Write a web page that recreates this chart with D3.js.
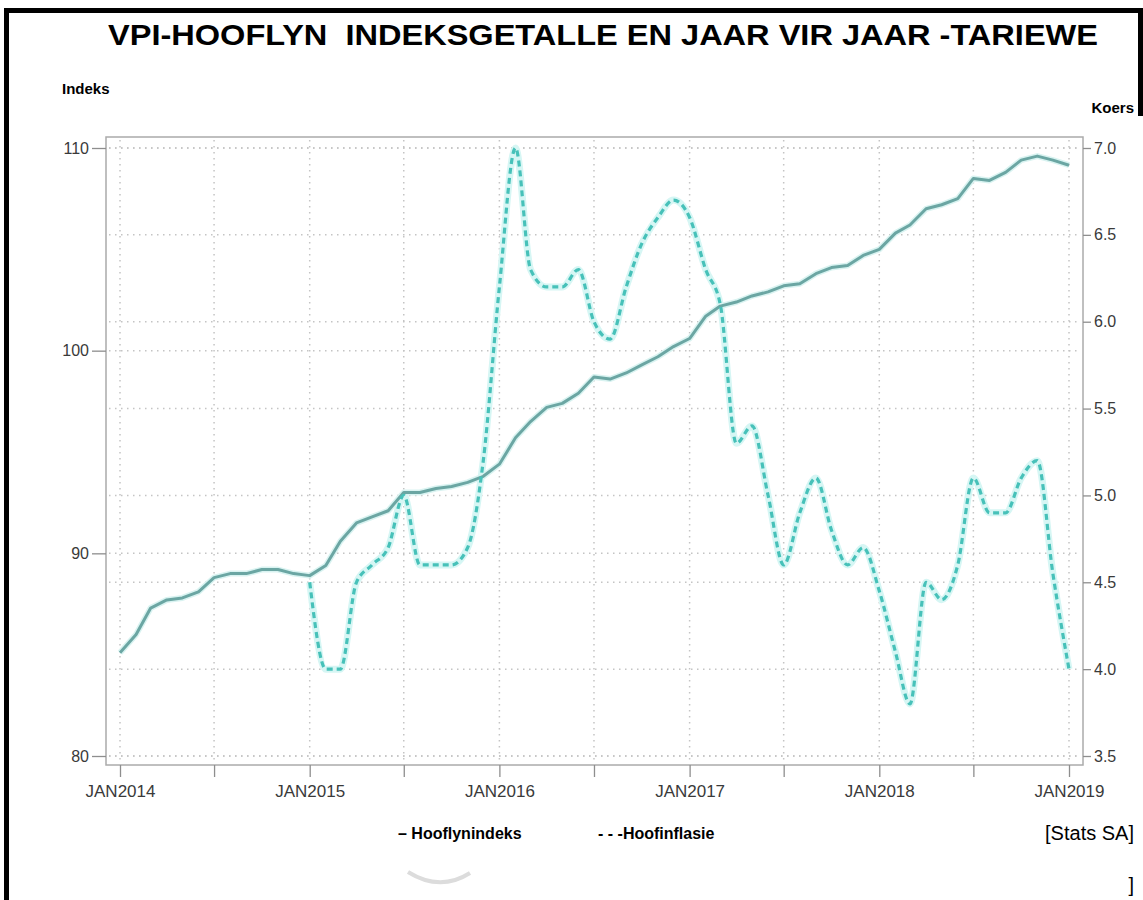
<!DOCTYPE html>
<html>
<head>
<meta charset="utf-8">
<script src="https://d3js.org/d3.v7.min.js"></script>
<style>
  body { margin: 0; background: #fff; }
  svg text { font-family: "Liberation Sans", Arial, sans-serif; }
</style>
</head>
<body>
<script>
(function(){

    //chart values
    var startMonth = new Date(2014, 0, 1);     //first month of the index series
    var inflationStart = new Date(2015, 0, 1); //first month of the inflation series

    //Hooflynindeks, monthly JAN2014 - JAN2019 (left axis)
    var indexValues = [
        85.1, 86.0, 87.3, 87.7, 87.8, 88.1, 88.8, 89.0, 89.0, 89.2, 89.2, 89.0,
        88.9, 89.4, 90.6, 91.5, 91.8, 92.1, 93.0, 93.0, 93.2, 93.3, 93.5, 93.8,
        94.4, 95.7, 96.5, 97.2, 97.4, 97.9, 98.7, 98.6, 98.9, 99.3, 99.7, 100.2,
        100.6, 101.7, 102.2, 102.4, 102.7, 102.9, 103.2, 103.3, 103.8, 104.1, 104.2, 104.7,
        105.0, 105.8, 106.2, 107.0, 107.2, 107.5, 108.5, 108.4, 108.8, 109.4, 109.6, 109.4,
        109.15
    ];

    //Hoofinflasie, monthly JAN2015 - JAN2019 (right axis)
    var inflationValues = [
        4.5, 4.0, 4.0, 4.5, 4.6, 4.7, 5.0, 4.6, 4.6, 4.6, 4.7, 5.2,
        6.2, 7.0, 6.3, 6.2, 6.2, 6.3, 6.0, 5.9, 6.2, 6.45, 6.6, 6.7,
        6.6, 6.3, 6.1, 5.3, 5.4, 5.0, 4.6, 4.9, 5.1, 4.8, 4.6, 4.7,
        4.45, 4.1, 3.8, 4.5, 4.4, 4.6, 5.1, 4.9, 4.9, 5.1, 5.2, 4.55,
        4.0
    ];

    var leftTicks = [80, 90, 100, 110];
    var rightTicks = [3.5, 4.0, 4.5, 5.0, 5.5, 6.0, 6.5, 7.0];
    var yearLabels = ["JAN2014", "JAN2015", "JAN2016", "JAN2017", "JAN2018", "JAN2019"];

    var titleText = "VPI-HOOFLYN  INDEKSGETALLE EN JAAR VIR JAAR -TARIEWE";
    var legendLabels = ["\u2013 Hooflynindeks", "- - -Hoofinflasie"];

    //build dated rows
    var indexData = indexValues.map(function(v, i){
        return { date: d3.timeMonth.offset(startMonth, i), value: v };
    });
    var inflationData = inflationValues.map(function(v, i){
        return { date: d3.timeMonth.offset(inflationStart, i), value: v };
    });

    var width = 1143, height = 900;

    var svg = d3.select("body")
        .append("svg")
        .attr("width", width)
        .attr("height", height);

    //plot box
    var box = { left: 106, right: 1083, top: 137, bottom: 765 };

    var x = d3.scaleTime()
        .domain([startMonth, new Date(2019, 0, 1)])
        .range([120, 1069]);

    var yLeft = d3.scaleLinear()
        .domain([80, 110])
        .range([756, 148]);

    var yRight = d3.scaleLinear()
        .domain([3.5, 7.0])
        .range([756, 148]);

    var halfYears = d3.timeMonth.every(6).range(startMonth, new Date(2019, 1, 1));

    //outer frame
    svg.append("rect").attr("x", 4).attr("y", 8).attr("width", 1139).attr("height", 5).attr("fill", "#000");
    svg.append("rect").attr("x", 4).attr("y", 8).attr("width", 5).attr("height", 892).attr("fill", "#000");
    svg.append("rect").attr("x", 1138).attr("y", 8).attr("width", 5).attr("height", 108).attr("fill", "#000");

    //title (narrow, tall lettering)
    svg.append("text")
        .attr("x", 603)
        .attr("y", 45)
        .attr("text-anchor", "middle")
        .style("font-size", "30px")
        .style("font-weight", "bold")
        .style("white-space", "pre")
        .attr("xml:space", "preserve")
        .attr("textLength", 990)
        .attr("lengthAdjust", "spacingAndGlyphs")
        .text(titleText);

    svg.append("text")
        .attr("x", 62).attr("y", 94)
        .style("font-size", "15px").style("font-weight", "bold")
        .text("Indeks");

    svg.append("text")
        .attr("x", 1134).attr("y", 113)
        .attr("text-anchor", "end")
        .style("font-size", "15px").style("font-weight", "bold")
        .text("Koers");

    //gridlines
    var grid = svg.append("g")
        .attr("stroke", "#c4c4c4")
        .attr("stroke-width", 1.5)
        .attr("stroke-dasharray", "1.5,4.5");

    grid.selectAll(".hL")
        .data(leftTicks)
        .enter()
        .append("line")
        .attr("x1", box.left + 3).attr("x2", box.right - 3)
        .attr("y1", function(d){ return yLeft(d); })
        .attr("y2", function(d){ return yLeft(d); });

    grid.selectAll(".hR")
        .data(rightTicks)
        .enter()
        .append("line")
        .attr("x1", box.left + 3).attr("x2", box.right - 3)
        .attr("y1", function(d){ return yRight(d); })
        .attr("y2", function(d){ return yRight(d); });

    grid.selectAll(".v")
        .data(halfYears)
        .enter()
        .append("line")
        .attr("x1", function(d){ return x(d); })
        .attr("x2", function(d){ return x(d); })
        .attr("y1", box.top + 3).attr("y2", box.bottom - 3);

    //plot frame
    svg.append("rect")
        .attr("x", box.left).attr("y", box.top)
        .attr("width", box.right - box.left)
        .attr("height", box.bottom - box.top)
        .attr("fill", "none")
        .attr("stroke", "#ababab")
        .attr("stroke-width", 1.5);

    //axes
    var leftAxis = svg.append("g")
        .attr("transform", "translate(" + box.left + ",0)")
        .call(d3.axisLeft(yLeft).tickValues(leftTicks).tickSize(14).tickPadding(3).tickFormat(d3.format("d")));

    var rightAxis = svg.append("g")
        .attr("transform", "translate(" + box.right + ",0)")
        .call(d3.axisRight(yRight).tickValues(rightTicks).tickSize(8).tickPadding(3).tickFormat(d3.format(".1f")));

    var bottomAxis = svg.append("g")
        .attr("transform", "translate(0," + box.bottom + ")")
        .call(d3.axisBottom(x).tickValues(halfYears).tickSize(12).tickPadding(8)
            .tickFormat(function(d){
                return d.getMonth() === 0 ? yearLabels[d.getFullYear() - 2014] : "";
            }));

    [leftAxis, rightAxis, bottomAxis].forEach(function(ax){
        ax.select(".domain").remove();
        ax.selectAll(".tick line").attr("stroke", "#8e8e8e").attr("stroke-width", 1.3);
        ax.selectAll(".tick text")
            .attr("fill", "#3a3a3a")
            .style("font-family", "'Liberation Sans', Arial, sans-serif")
            .style("font-size", "17px");
    });
    leftAxis.selectAll(".tick text").style("font-size", "16px");
    rightAxis.selectAll(".tick text").style("font-size", "16px");

    //lines
    var indexLine = d3.line()
        .x(function(d){ return x(d.date); })
        .y(function(d){ return yLeft(d.value); });

    var inflationLine = d3.line()
        .x(function(d){ return x(d.date); })
        .y(function(d){ return yRight(d.value); })
        .curve(d3.curveMonotoneX);

    //soft halo under the lines
    svg.append("path")
        .datum(inflationData)
        .attr("d", inflationLine)
        .attr("fill", "none")
        .attr("stroke", "#d6f6f4")
        .attr("stroke-width", 7)
        .attr("stroke-linejoin", "round");

    svg.append("path")
        .datum(indexData)
        .attr("d", indexLine)
        .attr("fill", "none")
        .attr("stroke", "#d9f3f1")
        .attr("stroke-width", 6)
        .attr("stroke-linejoin", "round");

    svg.append("path")
        .datum(indexData)
        .attr("class", "index")
        .attr("d", indexLine)
        .attr("fill", "none")
        .attr("stroke", "#6ba6a3")
        .attr("stroke-width", 3)
        .attr("stroke-linejoin", "round");

    svg.append("path")
        .datum(inflationData)
        .attr("class", "inflation")
        .attr("d", inflationLine)
        .attr("fill", "none")
        .attr("stroke", "#47c1b9")
        .attr("stroke-width", 3.2)
        .attr("stroke-dasharray", "6,4");

    //legend
    svg.append("text")
        .attr("x", 398).attr("y", 839)
        .style("font-size", "16px").style("font-weight", "bold")
        .text(legendLabels[0]);

    svg.append("text")
        .attr("x", 598).attr("y", 839)
        .style("font-size", "16px").style("font-weight", "bold")
        .text(legendLabels[1]);

    //faint shadow below the legend
    svg.append("path")
        .attr("d", "M408,872 Q440,892 470,873")
        .attr("fill", "none")
        .attr("stroke", "#dcdcdc")
        .attr("stroke-width", 4);

    //source
    svg.append("text")
        .attr("x", 1134).attr("y", 840)
        .attr("text-anchor", "end")
        .style("font-size", "20px")
        .text("[Stats SA]");

    svg.append("text")
        .attr("x", 1134).attr("y", 892)
        .attr("text-anchor", "end")
        .style("font-size", "20px")
        .text("]");

})();
</script>
</body>
</html>
